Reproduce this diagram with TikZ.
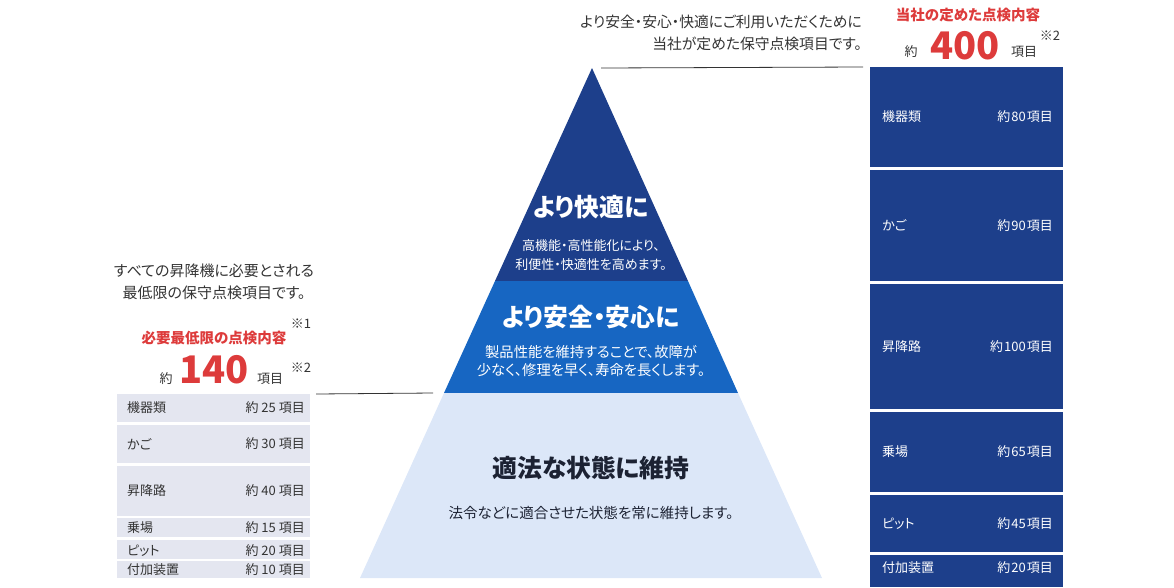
\documentclass[tikz,border=0pt]{standalone}
\usepackage{fontspec}
\setmainfont[RawFeature=+palt]{Noto Sans CJK JP}
\usepackage{xcolor}
\usetikzlibrary{positioning}

\definecolor{navy}{HTML}{1D3F8B}
\definecolor{midblue}{HTML}{1766C2}
\definecolor{paleblue}{HTML}{DCE7F8}
\definecolor{greycell}{HTML}{E4E6F0}
\definecolor{accent}{HTML}{DD3B3B}
\definecolor{ink}{HTML}{333333}
\definecolor{deepink}{HTML}{1C2233}

\begin{document}
\begin{tikzpicture}[
    x=1pt, y=-1pt,
    rcell/.style={fill=navy, inner sep=0, outer sep=0, minimum width=193pt, anchor=north west},
    lcell/.style={fill=greycell, inner sep=0, outer sep=0, minimum width=193pt, anchor=north west},
    rtext/.style={text=white, inner sep=0, font=\fontsize{13}{15}\selectfont},
    ltext/.style={text=ink, inner sep=0, font=\fontsize{13}{15}\selectfont},
    note/.style={text=ink, inner sep=0, font=\fontsize{14.8}{22}\selectfont},
    heading/.style={text=accent, inner sep=0, font=\fontsize{14.5}{17}\selectfont\bfseries},
    count/.style={text=accent, inner sep=0, font=\fontsize{38}{40}\selectfont\bfseries},
    unit/.style={text=ink, inner sep=0, font=\fontsize{13}{15}\selectfont},
    refmark/.style={text=ink, inner sep=0, font=\fontsize{13}{15}\selectfont},
    tier/.style={inner sep=0, font=\fontsize{24.8}{28}\selectfont\bfseries},
    tiersub/.style={inner sep=0, align=center},
    leader/.style={draw=ink, line width=0.8pt}
]
    \useasboundingbox (0,0) rectangle (1174,587);

    % Pyramid
    \coordinate (apex) at (592,68);
    \coordinate (topL) at (495,281);
    \coordinate (topR) at (688,281);
    \coordinate (midL) at (444,393);
    \coordinate (midR) at (738,393);
    \coordinate (baseL) at (360,578);
    \coordinate (baseR) at (822,578);
    \fill[navy] (apex) -- (topR) -- (topL) -- cycle;
    \fill[midblue] (topL) -- (topR) -- (midR) -- (midL) -- cycle;
    \fill[paleblue] (midL) -- (midR) -- (baseR) -- (baseL) -- cycle;

    \node[tier, text=white] (comfort) at (591,207) {より快適に};
    \node[tiersub, text=white, font=\fontsize{13}{18.5}\selectfont] (comfortsub) at (591,255) {高機能・高性能化により、\\利便性・快適性を高めます。};
    \node[tier, text=white] (safety) at (591,317) {より安全・安心に};
    \node[tiersub, text=white, font=\fontsize{14.3}{18}\selectfont] (safetysub) at (591,361.5) {製品性能を維持することで、故障が\\少なく、修理を早く、寿命を長くします。};
    \node[tier, text=deepink] (legal) at (591,468) {適法な状態に維持};
    \node[tiersub, text=deepink, font=\fontsize{14.5}{16}\selectfont] (legalsub) at (591,513) {法令などに適合させた状態を常に維持します。};

    % Own inspection (right)
    \node[note, anchor=east, align=right] (ownnote) at (862,33) {より安全・安心・快適にご利用いただくために\\当社が定めた保守点検項目です。};
    \node[heading] (ownhead) at (968,15) {当社の定めた点検内容};
    \node[count] (owncount) at (965,46) {400};
    \node[unit] (ownabout) at (911,52) {約};
    \node[unit] (ownunit) at (1024,52) {項目};
    \node[refmark] (ownref) at (1050,36) {※2};

    \node[rcell, minimum height=100pt] (rkiki) at (870,67) {};
    \node[rtext, right=12pt of rkiki.west] {機器類};
    \node[rtext, left=10pt of rkiki.east] {約\kern1pt 80\kern1pt 項目};
    \node[rcell, minimum height=111pt] (rkago) at (870,170) {};
    \node[rtext, right=12pt of rkago.west] {かご};
    \node[rtext, left=10pt of rkago.east] {約\kern1pt 90\kern1pt 項目};
    \node[rcell, minimum height=125pt] (rshaft) at (870,284) {};
    \node[rtext, right=12pt of rshaft.west] {昇降路};
    \node[rtext, left=10pt of rshaft.east] {約\kern1pt 100\kern1pt 項目};
    \node[rcell, minimum height=80pt] (rhall) at (870,412) {};
    \node[rtext, right=12pt of rhall.west] {乗場};
    \node[rtext, left=10pt of rhall.east] {約\kern1pt 65\kern1pt 項目};
    \node[rcell, minimum height=57pt] (rpit) at (870,495) {};
    \node[rtext, right=12pt of rpit.west] {ピット};
    \node[rtext, left=10pt of rpit.east] {約\kern1pt 45\kern1pt 項目};
    \node[rcell, minimum height=32pt] (raux) at (870,555) {};
    \node[rtext, right=12pt of raux.west, yshift=3pt] {付加装置};
    \node[rtext, left=10pt of raux.east, yshift=3pt] {約\kern1pt 20\kern1pt 項目};

    % Minimum inspection (left)
    \node[note, align=center, font=\fontsize{15}{22}\selectfont] (minnote) at (214,282) {すべての昇降機に必要とされる\\最低限の保守点検項目です。};
    \node[heading] (minhead) at (214,338) {必要最低限の点検内容};
    \node[refmark] (minref) at (301,324) {※1};
    \node[count] (mincount) at (214,370) {140};
    \node[unit] (minabout) at (166,379) {約};
    \node[unit] (minunit) at (270,379) {項目};
    \node[refmark] (minref2) at (301,368) {※2};

    \node[lcell, minimum height=28pt] (lkiki) at (117,394) {};
    \node[ltext, right=10pt of lkiki.west] {機器類};
    \node[ltext, left=5pt of lkiki.east] {約 25 項目};
    \node[lcell, minimum height=38pt] (lkago) at (117,425) {};
    \node[ltext, right=10pt of lkago.west] {かご};
    \node[ltext, left=5pt of lkago.east] {約 30 項目};
    \node[lcell, minimum height=50pt] (lshaft) at (117,466) {};
    \node[ltext, right=10pt of lshaft.west] {昇降路};
    \node[ltext, left=5pt of lshaft.east] {約 40 項目};
    \node[lcell, minimum height=19pt] (lhall) at (117,518) {};
    \node[ltext, right=10pt of lhall.west] {乗場};
    \node[ltext, left=5pt of lhall.east] {約 15 項目};
    \node[lcell, minimum height=19pt] (lpit) at (117,540) {};
    \node[ltext, right=10pt of lpit.west, yshift=-1pt] {ピット};
    \node[ltext, left=5pt of lpit.east, yshift=-1pt] {約 20 項目};
    \node[lcell, minimum height=17pt] (laux) at (117,561) {};
    \node[ltext, right=10pt of laux.west] {付加装置};
    \node[ltext, left=5pt of laux.east] {約 10 項目};

    % Leaders
    \draw[leader] ([xshift=6pt]lkiki.north east) -- ([xshift=-11pt]midL);
    \draw[leader] ([xshift=9pt]apex) -- ([xshift=-7pt]rkiki.north west);

\end{tikzpicture}
\end{document}
